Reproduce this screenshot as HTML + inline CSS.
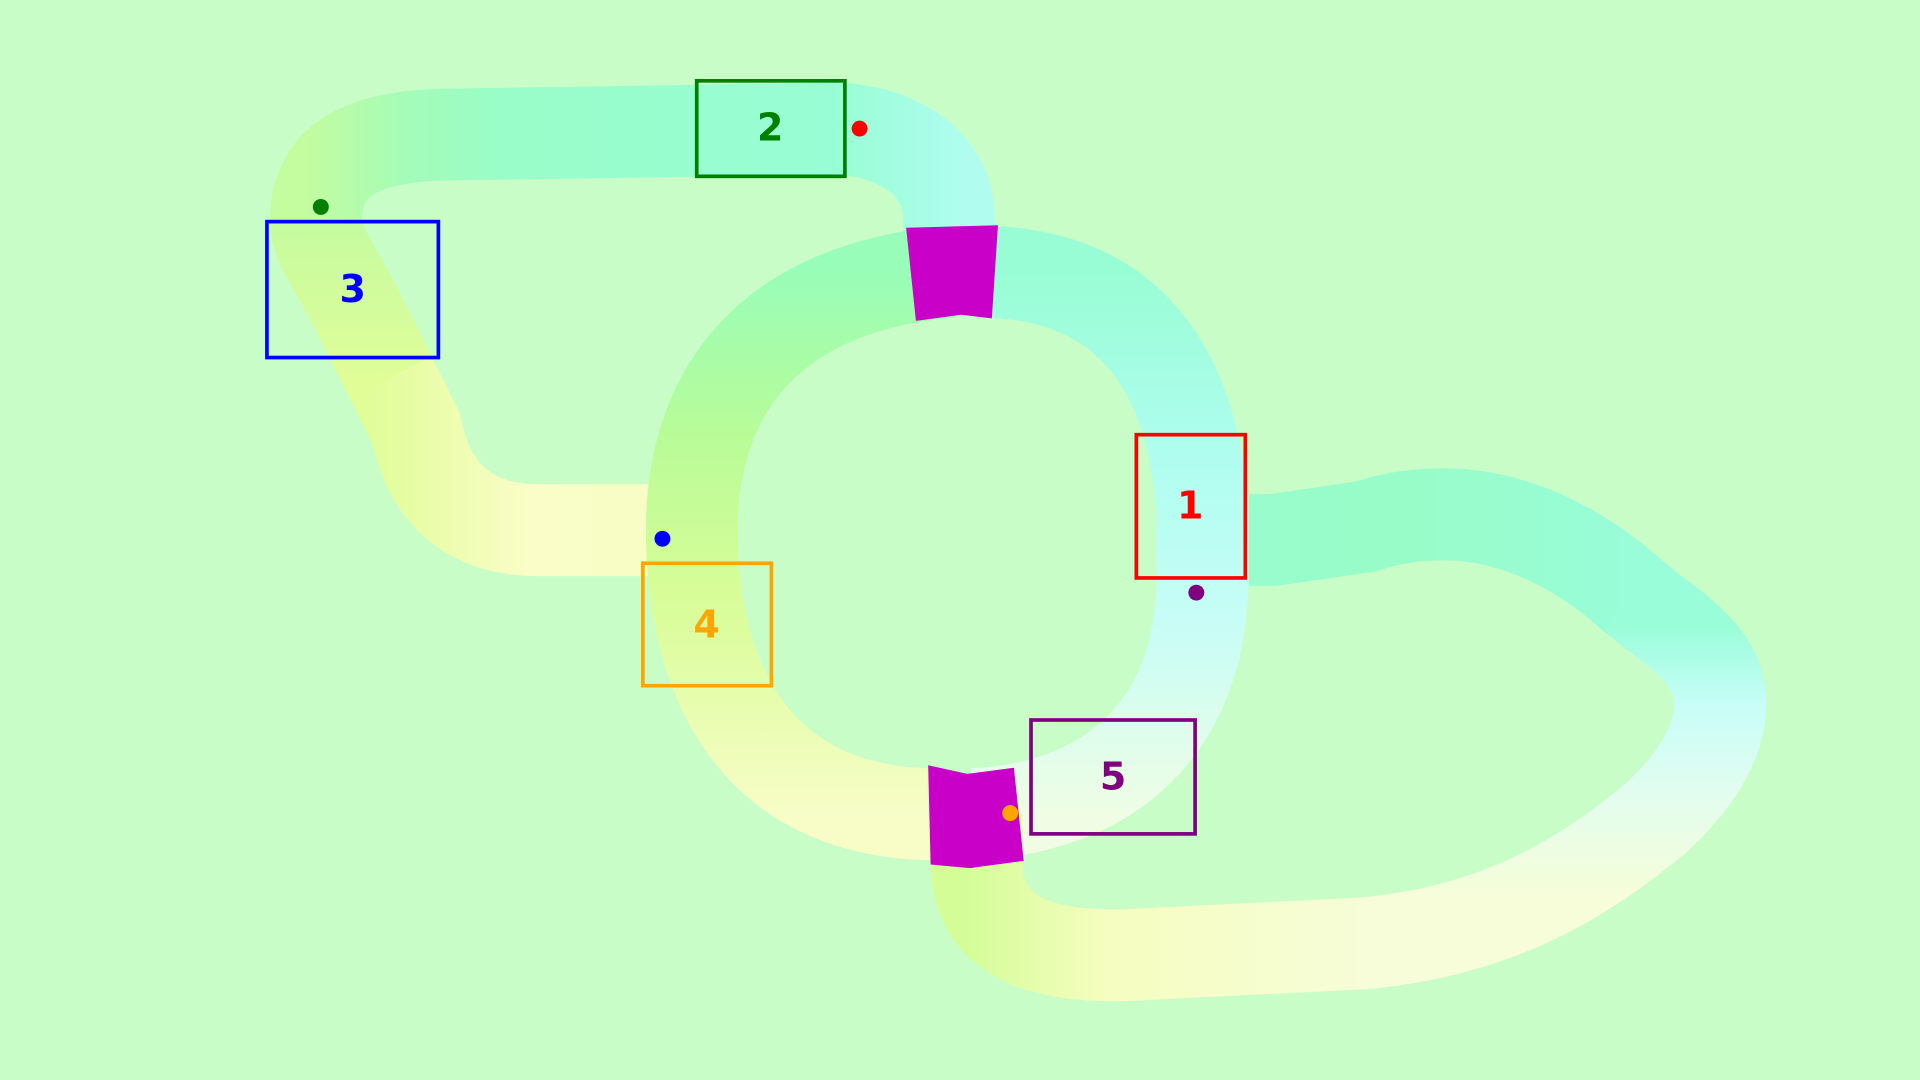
<!DOCTYPE html>
<html><head><meta charset="utf-8"><style>
html,body{margin:0;padding:0;background:#c8fdc8;overflow:hidden}
svg{display:block}
text{font-family:"DejaVu Sans","Liberation Sans",sans-serif;font-weight:bold;font-size:31px;text-anchor:middle;dominant-baseline:central}
</style></head><body>
<svg width="1920" height="1080" viewBox="0 0 1568 882">
<defs>
<linearGradient id="gTop" gradientUnits="userSpaceOnUse" x1="250" y1="0" x2="790" y2="0">
<stop offset="0" stop-color="#c4fca0"/><stop offset="0.15" stop-color="#a4fcb8"/><stop offset="0.3" stop-color="#98fdc8"/><stop offset="0.8" stop-color="#98fdd4"/><stop offset="1" stop-color="#b0fdf0"/></linearGradient>
<linearGradient id="gLeft" gradientUnits="userSpaceOnUse" x1="0" y1="180" x2="0" y2="310">
<stop offset="0" stop-color="#c4fca0"/><stop offset="1" stop-color="#e0fd98"/></linearGradient>
<linearGradient id="gBL" gradientUnits="userSpaceOnUse" x1="300" y1="0" x2="570" y2="0">
<stop offset="0" stop-color="#e0fd98"/><stop offset="0.5" stop-color="#fafdc8"/><stop offset="1" stop-color="#f6fdc4"/></linearGradient>
<linearGradient id="gCL" gradientUnits="userSpaceOnUse" x1="0" y1="220" x2="0" y2="670">
<stop offset="0" stop-color="#98fdb8"/><stop offset="0.3" stop-color="#b8fc98"/><stop offset="0.6" stop-color="#d8fd98"/><stop offset="1" stop-color="#f8fdc8"/></linearGradient>
<linearGradient id="gCR" gradientUnits="userSpaceOnUse" x1="0" y1="220" x2="0" y2="670">
<stop offset="0" stop-color="#98fdd4"/><stop offset="0.35" stop-color="#b0fdf0"/><stop offset="0.65" stop-color="#c8fdf6"/><stop offset="1" stop-color="#f0fde4"/></linearGradient>
<linearGradient id="gBot" gradientUnits="userSpaceOnUse" x1="790" y1="0" x2="1120" y2="0">
<stop offset="0" stop-color="#d4fd98"/><stop offset="0.35" stop-color="#f6fdc0"/><stop offset="1" stop-color="#f6fdd8"/></linearGradient>
<linearGradient id="gRL" gradientUnits="userSpaceOnUse" x1="0" y1="420" x2="0" y2="810">
<stop offset="0" stop-color="#98fdd8"/><stop offset="0.23" stop-color="#98fdd8"/><stop offset="0.4" stop-color="#c8fdf8"/><stop offset="0.57" stop-color="#e0fdf0"/><stop offset="0.8" stop-color="#f6fdd8"/><stop offset="1" stop-color="#f6fdd8"/></linearGradient>
<linearGradient id="gRT" gradientUnits="userSpaceOnUse" x1="1330" y1="0" x2="1020" y2="0">
<stop offset="0" stop-color="#98fdd8"/><stop offset="0.6" stop-color="#98fcc8"/><stop offset="1" stop-color="#98fccc"/></linearGradient>
</defs>
<rect width="1568" height="882" fill="#c8fdc8"/>
<g fill="none" stroke-width="75" stroke-linejoin="round">
<path stroke="url(#gTop)" d="M777,222 L775,175 C772,125 720,105 680,105 L360,110 C300,112 258,128 258,180"/>
<path stroke="url(#gLeft)" d="M258,180 C258,200 275,220 290,250 L320,310"/>
<path stroke="url(#gBL)" d="M319,308 L340,350 C350,400 380,433 440,433 L570,433"/>
<path stroke="url(#gCL)" d="M777,222 C650,232 565,300 565,433 C565,560 620,665 765,665"/>
<path stroke="url(#gCR)" d="M795,665 C900,660 982,600 982,470 L982,420 C975,300 920,222 800,222"/>
<path stroke="url(#gBot)" d="M797,665 L798,715 C805,770 860,782 920,780 L1122,770"/>
<path stroke="url(#gRL)" d="M1118,770 C1220,760 1290,720 1350,670 C1390,635 1405,600 1405,575 C1405,545 1385,525 1350,500 L1328,482"/>
<path stroke="url(#gRT)" d="M1333,486 L1320,475 C1270,435 1220,420 1180,420 C1150,420 1130,425 1115,430 L1040,441 L1020,441"/>
</g>
<polygon fill="#c800c8" points="740,186 815,184 810,260 785,257 748,262"/>
<polygon fill="#c800c8" points="758,625 790,632 828,627 836,703 792,709 760,706"/>
<g fill="none" stroke-width="3">
<rect x="928" y="355" width="89" height="117" stroke="#ff0000"/>
<rect x="569" y="66" width="121" height="78" stroke="#008000"/>
<rect x="218" y="181" width="140" height="111" stroke="#0000ff"/>
<rect x="525" y="460" width="105" height="100" stroke="#ffa500"/>
<rect x="842" y="588" width="134" height="93" stroke="#800080"/>
</g>
<text x="972" y="413" fill="#ff0000">1</text>
<text x="629" y="104" fill="#008000">2</text>
<text x="288" y="236" fill="#0000ff">3</text>
<text x="577" y="510" fill="#ffa500">4</text>
<text x="909" y="634" fill="#800080">5</text>
<circle cx="702" cy="105" r="6.5" fill="#ff0000"/>
<circle cx="262" cy="169" r="6.5" fill="#008000"/>
<circle cx="541" cy="440" r="6.5" fill="#0000ff"/>
<circle cx="977" cy="484" r="6.5" fill="#800080"/>
<circle cx="825" cy="664" r="6.5" fill="#ffa500"/>
</svg>
</body></html>
